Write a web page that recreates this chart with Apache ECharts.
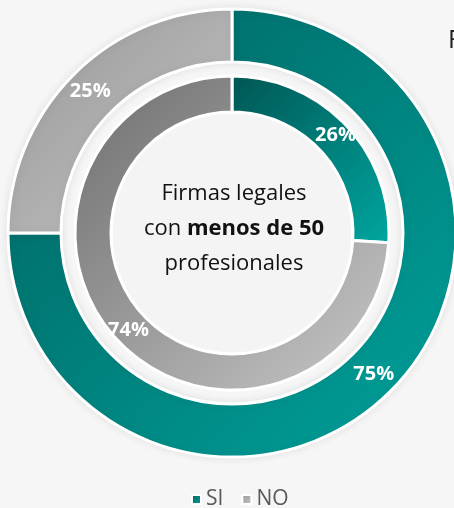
<!DOCTYPE html>
<html>
<head>
<meta charset="utf-8">
<script src="https://cdn.jsdelivr.net/npm/echarts@6/dist/echarts.min.js"></script>
<style>
html,body{margin:0;padding:0;background:#f6f6f6;}
#c{width:454px;height:508px;}
</style>
</head>
<body>
<div id="c"></div>
<script>
var categories = ['SI', 'NO'];
var outerValues = [75, 25];
var innerValues = [26, 74];
var centerLines = ['Firmas legales', 'con {b|menos de 50}', 'profesionales'];

function grad(c1, c2) {
  return {type:'linear', x:0, y:0, x2:1, y2:1, colorStops:[{offset:0,color:c1},{offset:1,color:c2}]};
}
var outerColors = [grad('#00625f', '#00a29c'), grad('#979797', '#c6c6c6')];
var innerColors = [grad('#005653', '#00a6a0'), grad('#6e6e6e', '#c8c8c8')];

function build(values, colors) {
  return values.map(function (v, i) {
    return {name: categories[i], value: v, itemStyle: {color: colors[i]}};
  });
}

var labelStyle = {
  show: true, position: 'inside', color: '#ffffff',
  fontFamily: 'Open Sans', fontWeight: 'bold', fontSize: 20,
  formatter: function (p) { return p.value + '%'; }
};

var chart = echarts.init(document.getElementById('c'), null, {renderer: 'canvas'});
chart.setOption({
  backgroundColor: '#f6f6f6',
  animation: false,
  legend: {
    data: categories,
    top: 484, left: 186,
    icon: 'rect', itemWidth: 9, itemHeight: 9, itemGap: 18,
    textStyle: {color: '#595959', fontSize: 21, fontFamily: 'Open Sans'}
  },
  graphic: [
    {type: 'circle', shape: {cx: 232, cy: 233, r: 119}, style: {fill: '#f4f4f4'}, z: -1},
    {type: 'text', x: 448, y: 28, style: {text: 'Firmas', fontSize: 25, fontFamily: 'Open Sans', fill: '#222'}},
    {type: 'text', x: 234, y: 229,
      style: {
        text: centerLines.join('\n'), align: 'center', verticalAlign: 'middle',
        fontFamily: 'Open Sans', fontSize: 22, lineHeight: 35, fill: '#111',
        rich: {b: {fontFamily: 'Open Sans', fontSize: 22, fontWeight: 'bold', fill: '#111', lineHeight: 35}}
      }
    }
  ],
  series: [
    {
      type: 'pie', name: 'Exterior', center: [232, 233], radius: [171, 224],
      startAngle: 90, clockwise: true, silent: true,
      itemStyle: {borderColor: '#ffffff', borderWidth: 3, shadowBlur: 8, shadowColor: 'rgba(0,0,0,0.08)'},
      label: labelStyle, labelLine: {show: false},
      data: build(outerValues, outerColors)
    },
    {
      type: 'pie', name: 'Interior', center: [232, 233], radius: [121, 157],
      startAngle: 90, clockwise: true, silent: true,
      itemStyle: {borderColor: '#ffffff', borderWidth: 3},
      label: labelStyle, labelLine: {show: false},
      data: build(innerValues, innerColors)
    }
  ]
});
</script>
</body>
</html>
